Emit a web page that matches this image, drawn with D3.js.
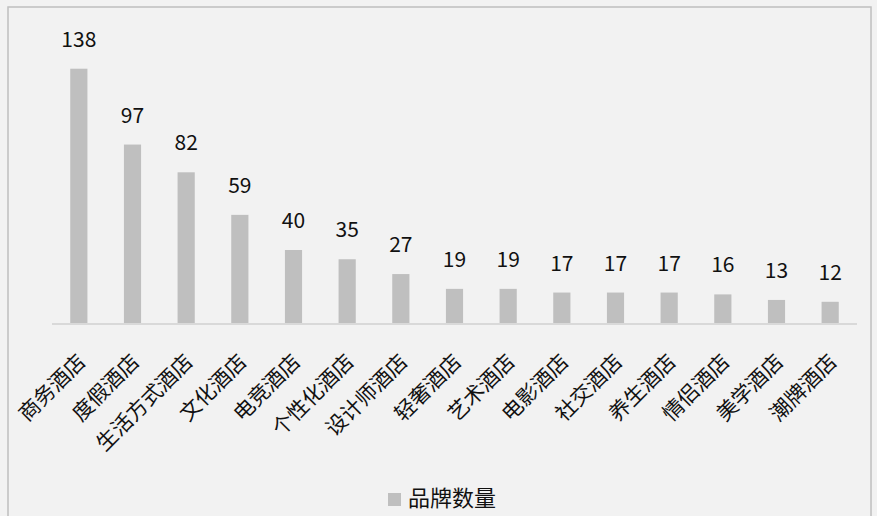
<!DOCTYPE html>
<html>
<head>
<meta charset="utf-8">
<script src="https://cdn.jsdelivr.net/npm/d3@7"></script>
<style>
  body { margin: 0; background: #f2f2f2; }
  text { font-family: "Noto Sans CJK SC", "Noto Sans", sans-serif; fill: #111; }
</style>
</head>
<body>
<div id="chart"></div>
<script>
// chart data
var categories = ["商务酒店", "度假酒店", "生活方式酒店", "文化酒店", "电竞酒店", "个性化酒店", "设计师酒店",
                  "轻奢酒店", "艺术酒店", "电影酒店", "社交酒店", "养生酒店", "情侣酒店", "美学酒店", "潮牌酒店"];
var counts = [138, 97, 82, 59, 40, 35, 27, 19, 19, 17, 17, 17, 16, 13, 12];
var seriesName = "品牌数量";

var width = 877, height = 516;

var svg = d3.select("#chart").append("svg")
    .attr("width", width)
    .attr("height", height);

svg.append("rect")
   .attr("width", width).attr("height", height)
   .style("fill", "#f2f2f2");

// outer frame
svg.append("rect")
   .attr("x", 8).attr("y", 7)
   .attr("width", 863).attr("height", 530)
   .style("fill", "none")
   .style("stroke", "#bfbfbf")
   .style("stroke-width", 1.5);

var x = d3.scaleBand()
    .domain(categories)
    .range([52, 857])
    .paddingInner(0.68)
    .paddingOuter(0.34);

var y = d3.scaleLinear()
    .domain([0, 160])
    .range([324, 28]);

// bars
svg.selectAll("rect.bar")
   .data(counts)
   .enter().append("rect")
   .attr("class", "bar")
   .attr("x", (d, i) => x(categories[i]))
   .attr("y", d => y(d))
   .attr("width", x.bandwidth())
   .attr("height", d => y(0) - y(d))
   .style("fill", "#bfbfbf");

// axis line
svg.append("line")
   .attr("x1", 52).attr("x2", 857)
   .attr("y1", y(0)).attr("y2", y(0))
   .style("stroke", "#d9d9d9")
   .style("stroke-width", 2);

// value labels
svg.selectAll("text.value")
   .data(counts)
   .enter().append("text")
   .attr("class", "value")
   .attr("x", (d, i) => x(categories[i]) + x.bandwidth() / 2)
   .attr("y", d => y(d) - 22)
   .attr("text-anchor", "middle")
   .style("font-size", "21px")
   .text(d => d);

// category labels, rotated
svg.selectAll("text.cat")
   .data(categories)
   .enter().append("text")
   .attr("class", "cat")
   .attr("transform", d => "translate(" + (x(d) + x.bandwidth() / 2 + 4) + "," + (y(0) + 35) + ") rotate(-45)")
   .attr("text-anchor", "end")
   .attr("dominant-baseline", "middle")
   .style("font-size", "21px")
   .text(d => d);

// legend
var legend = svg.append("g").attr("transform", "translate(388,500)");
legend.append("rect")
   .attr("x", 0).attr("y", -7)
   .attr("width", 13).attr("height", 13)
   .style("fill", "#bfbfbf");
legend.append("text")
   .attr("x", 20).attr("y", 0)
   .attr("dominant-baseline", "middle")
   .style("font-size", "22px")
   .text(seriesName);
</script>
</body>
</html>
